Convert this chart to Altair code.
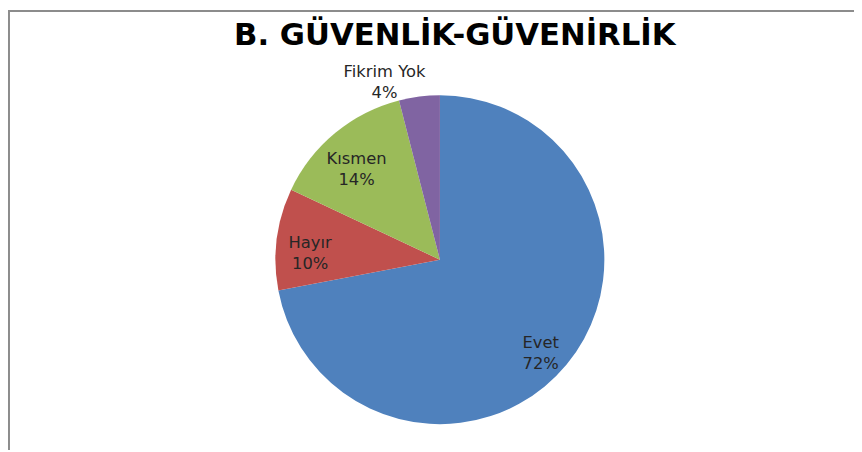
import altair as alt
import pandas as pd
import math

categories = ["Evet", "Hayır", "Kısmen", "Fikrim Yok"]
values = [72, 10, 14, 4]
colors = ["#4F81BD", "#C0504D", "#9BBB59", "#8064A2"]
title_text = "B. GÜVENLİK-GÜVENİRLİK"

df = pd.DataFrame({"cat": categories, "val": values, "idx": list(range(len(categories)))})

W, H = 854, 444
cx, cy = 436, 252
R = 166

pie = alt.Chart(df).mark_arc(radius=R, x=cx, y=cy).encode(
    theta=alt.Theta("val:Q", stack=True),
    order=alt.Order("idx:Q"),
    color=alt.Color("cat:N", scale=alt.Scale(domain=categories, range=colors), legend=None),
)

lab_base = alt.Chart(df).transform_window(
    cum="sum(val)", sort=[alt.SortField("idx")], frame=[None, 0]
).transform_calculate(
    mid="datum.cum - datum.val / 2",
    label="datum.cat + '\\n' + datum.val + '%'",
).encode(
    theta=alt.Theta("mid:Q", scale=alt.Scale(domain=[0, 100], range=[0, 2 * math.pi])),
    text="label:N",
)

txt_style = dict(x=cx, y=cy, lineBreak="\n", font="DejaVu Sans", fontSize=16.5,
                 color="#262626", align="center", baseline="middle", lineHeight=21)

inner_labels = lab_base.transform_filter("datum.cat != 'Fikrim Yok'").mark_text(
    radius=132, **txt_style
)
outer_labels = lab_base.transform_filter("datum.cat == 'Fikrim Yok'").mark_text(
    radius=191, dx=-32, **txt_style
)

title = alt.Chart(pd.DataFrame({"t": [title_text]})).mark_text(
    font="DejaVu Sans", fontSize=31, fontWeight="bold", color="#000000",
    align="center", baseline="middle",
).encode(text="t:N", x=alt.value(451), y=alt.value(26))

top_rule = alt.Chart(pd.DataFrame({"a": [0]})).mark_rule(color="#8c8c8c", strokeWidth=2).encode(
    x=alt.value(0), x2=alt.value(W), y=alt.value(1)
)
left_rule = alt.Chart(pd.DataFrame({"a": [0]})).mark_rule(color="#8c8c8c", strokeWidth=2).encode(
    x=alt.value(1), y=alt.value(0), y2=alt.value(H)
)

chart = alt.layer(top_rule, left_rule, pie, inner_labels, outer_labels, title).properties(
    width=W, height=H, padding=0, autosize=alt.AutoSizeParams(type="none"),
    background="#ffffff",
).configure_view(stroke=None)

chart.save("out.html", embed_options={"renderer": "svg", "actions": False})
